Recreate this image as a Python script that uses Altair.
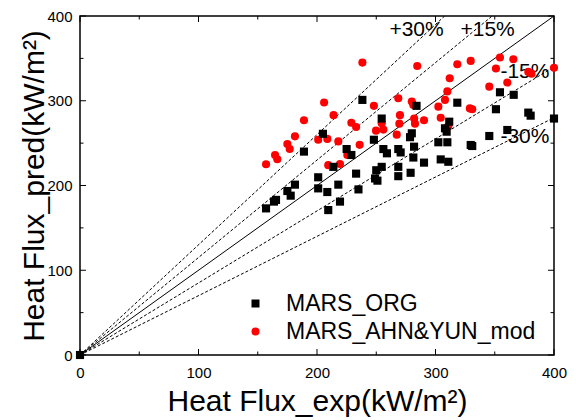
import altair as alt
import pandas as pd

# MARS_ORG (black squares)
org_x = [0, 157, 163.7, 165.4, 175, 177.8, 181.4, 189, 201, 201, 205, 208.7, 209.5, 213.8,
         218, 219.4, 225, 229, 233, 235, 238.3, 248, 250, 254.6, 249, 251, 254.6, 256, 259,
         268.6, 270.6, 268.6, 268.6, 279, 280, 278.5, 281.9, 281.3, 284, 290.3, 302.4, 310,
         304.4, 310.8, 308, 309.4, 311.6, 318.4, 329.7, 331, 345.4, 351, 354.4, 360.6, 366,
         378.3, 380.3, 400]
org_y = [0, 173, 181, 183, 193.5, 188, 201, 240, 209.7, 196.6, 261, 192.3, 171, 222,
         201, 181, 243, 236, 214, 195.4, 301, 254, 218, 222, 208.3, 205.7, 279, 243, 238,
         243, 239, 222, 211, 215, 261.6, 257, 245.8, 233, 294, 227, 251, 251,
         230.8, 228, 267.5, 263.5, 275.3, 297.7, 247.8, 246.6, 258.4, 290, 310, 265.5, 307,
         286, 282.4, 279]

# MARS_AHN&YUN_mod (red circles)
mod_x = [157, 164.6, 166.5, 175, 177, 181.4, 189, 201, 208.7, 206, 209.5, 219.4, 214, 218,
         225.6, 229, 233, 236, 238.3, 248, 249.8, 256, 254.6, 268.6, 270, 269.5, 267.3, 280,
         281.3, 282, 282.7, 284.6, 290.3, 302.4, 304.4, 308, 310, 310.8, 312, 318.4, 329.7,
         329, 331, 345.4, 351, 354.4, 360.6, 365.7, 378.3, 381, 400]
mod_y = [225, 236, 231, 249, 243, 258, 277, 254, 255, 298, 224, 225.4, 283, 252,
         236, 274, 269, 248, 345, 294, 264.7, 266, 273.4, 303, 283, 273, 260, 299,
         295, 279, 273, 341, 277, 293, 280, 301, 311, 270, 326.5, 343, 347,
         291, 290, 316.6, 338, 351, 321.5, 349, 334, 332, 339]

series_names = ["MARS_ORG", "MARS_AHN&YUN_mod"]
series_colors = ["black", "red"]
series_shapes = ["square", "circle"]

major_ticks = [0, 100, 200, 300, 400]
minor_ticks = [50, 150, 250, 350]

ratios = [1.3, 1.15, 1.0, 0.85, 0.7]
ratio_labels = ["+30%", "+15%", "", "-15%", "-30%"]
label_x = [284, 344, 0, 375.5, 375.5]
label_y = [383.5, 383.5, 0, 334, 257]

FONT = "Liberation Sans"
W, H = 474, 339
DMAX = 400

pts = pd.DataFrame({
    "exp": mod_x + org_x,
    "pred": mod_y + org_y,
    "series": [series_names[1]] * len(mod_x) + [series_names[0]] * len(org_x),
})

rows = []
for k in ratios:
    xend = min(DMAX, DMAX / k)
    rows.append({"k": k, "x": 0, "y": 0, "solid": k == 1.0})
    rows.append({"k": k, "x": xend, "y": k * xend, "solid": k == 1.0})
lines = pd.DataFrame(rows)

labels = pd.DataFrame({"x": label_x, "y": label_y, "t": ratio_labels})
labels = labels[labels["t"] != ""]

xs = alt.Scale(domain=[0, DMAX], nice=False)
ys = alt.Scale(domain=[0, DMAX], nice=False)

ticks_df = pd.DataFrame({"v": major_ticks + minor_ticks,
                         "len": [6] * len(major_ticks) + [3.5] * len(minor_ticks)})

base_pts = alt.Chart(pts).mark_point(filled=True, opacity=1, size=66).encode(
    x=alt.X("exp:Q", scale=xs,
            axis=alt.Axis(values=major_ticks, title="Heat Flux_exp(kW/m²)", grid=False,
                          domain=False, ticks=False, labelPadding=10, labelFontSize=15,
                          labelFlush=False,
                          labelFont=FONT, labelColor="black", titleFont=FONT,
                          titleFontSize=30, titleFontWeight="normal", titleColor="black",
                          titlePadding=6)),
    y=alt.Y("pred:Q", scale=ys,
            axis=alt.Axis(values=major_ticks, title="Heat Flux_pred(kW/m²)", grid=False,
                          domain=False, ticks=False, labelPadding=8, labelFontSize=15,
                          labelFlush=False,
                          labelFont=FONT, labelColor="black", titleFont=FONT,
                          titleFontSize=30, titleFontWeight="normal", titleColor="black",
                          titlePadding=-3)),
    color=alt.Color("series:N", scale=alt.Scale(domain=series_names, range=series_colors),
                    legend=alt.Legend(title=None, orient="none", legendX=164, legendY=276,
                                      labelFontSize=23, labelFont=FONT, labelColor="black",
                                      labelLimit=0,
                                      symbolSize=64, rowPadding=4, labelOffset=19,
                                      padding=0, symbolStrokeWidth=0)),
    shape=alt.Shape("series:N", scale=alt.Scale(domain=series_names, range=series_shapes)),
)

solid = alt.Chart(lines[lines["solid"]]).mark_line(color="black", strokeWidth=1, clip=True).encode(
    x=alt.X("x:Q", scale=xs), y=alt.Y("y:Q", scale=ys), detail="k:N")
dashed = alt.Chart(lines[~lines["solid"]]).mark_line(color="black", strokeWidth=1,
                                                      strokeDash=[3, 2], clip=True).encode(
    x=alt.X("x:Q", scale=xs), y=alt.Y("y:Q", scale=ys), detail="k:N")

txt = alt.Chart(labels).mark_text(font=FONT, fontSize=21, color="black", align="center",
                                  baseline="middle").encode(
    x=alt.X("x:Q", scale=xs), y=alt.Y("y:Q", scale=ys), text="t:N")


def xticks(y0, sign):
    out = []
    for L in (6, 3.5):
        d = ticks_df[ticks_df["len"] == L]
        out.append(alt.Chart(d).mark_rule(color="black", strokeWidth=1).encode(
            x=alt.X("v:Q", scale=xs), y=alt.value(y0), y2=alt.value(y0 + sign * L)))
    return out


def yticks(x0, sign):
    out = []
    for L in (6, 3.5):
        d = ticks_df[ticks_df["len"] == L]
        out.append(alt.Chart(d).mark_rule(color="black", strokeWidth=1).encode(
            y=alt.Y("v:Q", scale=ys), x=alt.value(x0), x2=alt.value(x0 + sign * L)))
    return out


tick_layers = xticks(H, -1) + xticks(0, 1) + yticks(0, 1) + yticks(W, -1)

chart = alt.layer(dashed, solid, *tick_layers, txt, base_pts).properties(
    width=W, height=H,
    padding={"left": 80, "top": 16, "right": 22, "bottom": 65},
    autosize=alt.AutoSizeParams(type="none"),
    background="white",
).configure_view(stroke="black", strokeWidth=1.5)

chart.save("out.html", embed_options={"renderer": "svg", "actions": False})
